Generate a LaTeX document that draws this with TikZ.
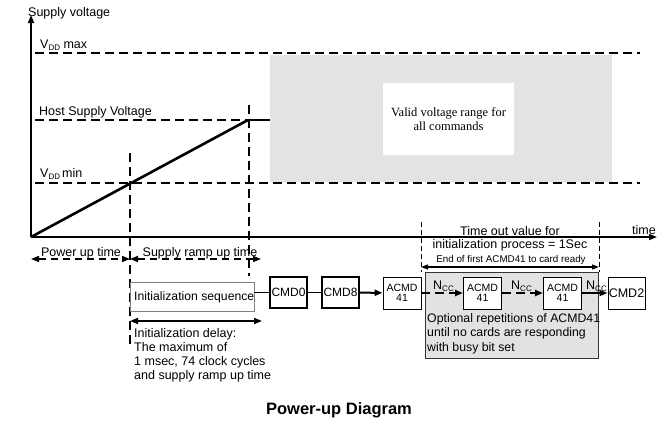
\documentclass[tikz,border=0pt]{standalone}
\usepackage{fontspec}
\setmainfont{Liberation Sans}
\newfontfamily\serifF{Liberation Serif}
\usetikzlibrary{arrows.meta}
\definecolor{validgray}{RGB}{227,227,227}
\definecolor{optgray}{RGB}{226,226,226}
\newcommand{\subDD}[1]{\raisebox{-0.35ex}{\fontsize{8}{8}\selectfont #1}}
\begin{document}
\begin{tikzpicture}[x=1pt,y=-1pt,
  lbl/.style={font=\fontsize{12.5}{13}\selectfont, inner sep=0pt},
  bigdash/.style={line width=2pt, dash pattern=on 9pt off 5pt},
  vdash/.style={line width=1.8pt, dash pattern=on 9pt off 5pt},
  thindash/.style={line width=0.9pt, dash pattern=on 5pt off 3pt},
  tip/.style={-{Triangle[length=8pt,width=6pt]}},
  dtip/.style={{Triangle[length=8pt,width=6pt]}-{Triangle[length=8pt,width=6pt]}},
  cmdthick/.style={draw, line width=1.6pt, minimum width=37pt, minimum height=31pt, inner sep=0pt, font=\fontsize{12}{13}\selectfont},
  cmdthin/.style={draw, line width=0.9pt, fill=white, minimum width=38pt, minimum height=32pt, inner sep=0pt, align=center, font=\fontsize{10.5}{9.5}\selectfont},
  ncc/.style={font=\fontsize{12.5}{13}\selectfont, inner sep=0pt}
]
\useasboundingbox (0,0) rectangle (662,421);

% valid range area
\fill[validgray] (270,55) rectangle (612,182);
\node[fill=white, minimum width=131pt, minimum height=72pt, align=center,
      font=\serifF\fontsize{12.5}{14}\selectfont] (valid) at (448.5,119)
      {Valid voltage range for\\all commands};

% axes
\coordinate (O) at (31,237);
\coordinate (ytop) at (31,15);
\coordinate (xend) at (657,237);
\draw[line width=1.6pt, tip] (O) -- (ytop);
\draw[line width=1.6pt, tip] (O) -- (xend);
\node[lbl, anchor=base west] (ylab) at (28,16) {Supply voltage};
\node[lbl, anchor=base east] (tlab) at (656,234) {time};

% level lines
\coordinate (vmaxA) at (35,53);  \coordinate (vmaxB) at (640,53);
\coordinate (hostA) at (35,120); \coordinate (hostB) at (248,120); \coordinate (hostC) at (270,120);
\coordinate (vminA) at (35,183); \coordinate (vminB) at (640,183);
\draw[bigdash] (vmaxA) -- (vmaxB);
\draw[bigdash] (hostA) -- (hostB);
\draw[line width=2pt] (hostB) -- (hostC);
\draw[bigdash] (vminA) -- (vminB);
\node[lbl, anchor=base west] (lmax) at (40,48) {V\subDD{DD} max};
\node[lbl, anchor=base west] (lhost) at (39,115) {Host Supply Voltage};
\node[lbl, anchor=base west] (lmin) at (40,177) {V\subDD{DD}\,min};

% ramp
\draw[line width=2.6pt] (O) -- (hostB);

% vertical markers
\coordinate (v1a) at (130,153); \coordinate (v1b) at (130,347);
\coordinate (v2a) at (249,105); \coordinate (v2b) at (249,276);
\draw[vdash] (v1a) -- (v1b);
\draw[vdash] (v2a) -- (v2b);

% power up time / ramp up time
\coordinate (p0) at (31,259); \coordinate (p1) at (130,259); \coordinate (p2) at (261,259);
\draw[line width=1.5pt, dash pattern=on 7pt off 5pt, dtip] (p0) -- (p1);
\draw[line width=1.5pt, dash pattern=on 7pt off 5pt, dtip] (p1) -- (p2);
\node[lbl, anchor=base] (tpow) at (81,256) {Power up time};
\node[lbl, anchor=base] (tramp) at (200,256) {Supply ramp up time};

% init sequence
\node[draw=gray, line width=0.8pt, minimum width=124pt, minimum height=29pt, inner sep=0pt] (init) at (192,296.5) {};
\node[lbl, anchor=west, font=\fontsize{12.2}{13}\selectfont] (initt) at (134,297) {Initialization sequence};

% command boxes
\node[cmdthick] (cmd0) at (288.5,292.5) {CMD0};
\node[cmdthick] (cmd8) at (340.5,292.5) {CMD8};
\node[cmdthin] (a1) at (402,293) {ACMD\\41};
\fill[optgray] (425,272) rectangle (598,358);
\draw[line width=0.9pt, draw=black!80] (425,272) rectangle (598,358);
\node[cmdthin] (a2) at (482.5,293) {ACMD\\41};
\node[cmdthin] (a3) at (562.5,293) {ACMD\\41};
\node[cmdthin, minimum width=37pt, font=\fontsize{12.5}{13}\selectfont] (cmd2) at (626.5,293) {CMD2};

\draw[line width=1.6pt] (init.east |- cmd0.west) -- (cmd0.west);
\draw[line width=1.6pt] (cmd0) -- (cmd8);
\draw[line width=2pt, tip] (cmd8) -- (a1);
\draw[line width=2pt, dash pattern=on 9pt off 5pt, tip] (a1) -- (a2);
\draw[line width=2pt, dash pattern=on 9pt off 5pt, tip] (a2) -- (a3);
\draw[line width=2pt, tip] (a3) -- (cmd2);
\node[ncc, anchor=base west] (n1) at (433,289) {N\subDD{CC}};
\node[ncc, anchor=base west] (n2) at (511,289) {N\subDD{CC}};
\node[ncc, anchor=base west] (n3) at (586,289) {N\subDD{CC}};

\node[lbl, anchor=north west, align=left, font=\fontsize{12.3}{14.5}\selectfont] (opt) at (427,313)
  {Optional repetitions of ACMD41\\until no cards are responding\\with busy bit set};

% timeout markers
\coordinate (t1a) at (421,222); \coordinate (t1b) at (421,272);
\coordinate (t2a) at (599,222); \coordinate (t2b) at (599,272);
\draw[thindash] (t1a) -- (t1b);
\draw[thindash] (t2a) -- (t2b);
\coordinate (e1) at (421,267); \coordinate (e2) at (599,267);
\draw[line width=1.2pt, {Triangle[length=7pt,width=5pt]}-{Triangle[length=7pt,width=5pt]}] (e1) -- (e2);
\node[lbl, anchor=base] (to1) at (510,235) {Time out value for};
\node[lbl, anchor=base] (to2) at (510,248) {initialization process = 1Sec};
\node[inner sep=0pt, anchor=base, font=\fontsize{9.8}{10}\selectfont] (eof) at (511,262) {End of first ACMD41 to card ready};

% init delay
\coordinate (d1) at (130,321); \coordinate (d2) at (262,321);
\draw[line width=1.5pt, dtip] (d1) -- (d2);
\node[lbl, anchor=north west, align=left, font=\fontsize{12.5}{14.2}\selectfont] (delay) at (134,328)
  {Initialization delay:\\The maximum of\\1 msec, 74 clock cycles\\and supply ramp up time};

% title
\node[inner sep=0pt, font=\bfseries\fontsize{16.5}{18}\selectfont] (title) at (339,410) {Power-up Diagram};
\end{tikzpicture}
\end{document}
